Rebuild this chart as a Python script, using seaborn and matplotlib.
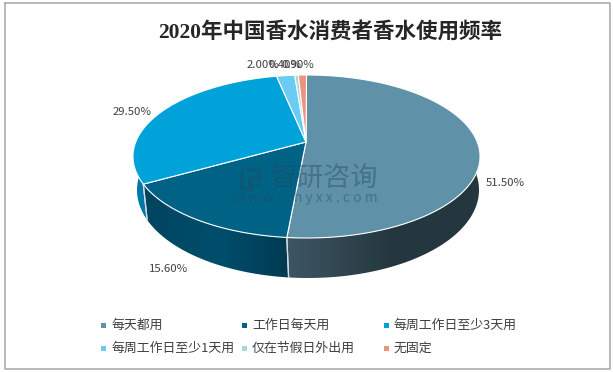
import numpy as np
import matplotlib
matplotlib.use("Agg")
import matplotlib.pyplot as plt
import matplotlib.colors as mc
from matplotlib.patches import Polygon, Rectangle
import seaborn as sns

categories = ["每天都用", "工作日每天用", "每周工作日至少3天用", "每周工作日至少1天用", "仅在节假日外出用", "无固定"]
values = [51.5, 15.6, 29.5, 2.0, 0.4, 0.9]
value_labels = ["51.50%", "15.60%", "29.50%", "2.00%", "0.40%", "0.90%"]
colors = ["#5F91A9", "#006386", "#00A2DA", "#6BCBF3", "#A5DAD9", "#EE9280"]
title = "2020年中国香水消费者香水使用频率"

sns.set_theme(style="white")
CJK = ["Noto Sans CJK SC", "DejaVu Sans"]
plt.rcParams["font.family"] = CJK

W, H = 613, 372
fig = plt.figure(figsize=(W / 100, H / 100), dpi=100)
ax = fig.add_axes([0, 0, 1, 1])

# ellipse geometry of the tilted pie (pixel space)
cx, cy, rx, ry = 306.5, 156.5, 173.5, 81.5
bx, by, brx, bry = 308, 190, 171, 88
apex = (306, 142)
WARP = np.radians(9.5)


def warp(t):
    return t - WARP * np.sin(t)


def top(t):
    t = warp(t)
    return cx + rx * np.sin(t), cy - ry * np.cos(t)


def bottom(t):
    t = warp(t)
    return bx + brx * np.sin(t), by - bry * np.cos(t)


edges = np.cumsum([0] + values) / sum(values) * 2 * np.pi

# side wall gradients, as (x position, colour) stops per slice
side_stops = {
    0: [(287, "#3E5664"), (390, "#25383F"), (480, "#24373F")],
    1: [(133, "#00435E"), (220, "#004E6C"), (287, "#003A52")],
    2: [(130, "#007FB0"), (150, "#0072A0")],
}
grad_x = np.linspace(0, W, W + 1)
for i, col in enumerate(colors):
    a0, a1 = max(edges[i], np.pi / 2), min(edges[i + 1], 3 * np.pi / 2)
    if a1 <= a0 or i not in side_stops:
        continue
    ts = np.linspace(a0, a1, 120)
    verts = [top(t) for t in ts] + [bottom(t) for t in ts[::-1]]
    stops = side_stops[i]
    xs = [s[0] for s in stops]
    rgb = np.array([mc.to_rgb(s[1]) for s in stops])
    img = np.stack([np.interp(grad_x, xs, rgb[:, c]) for c in range(3)], axis=-1)[None, :, :]
    im = ax.imshow(img, extent=(0, W, 300, 100), aspect="auto", interpolation="bilinear", zorder=2)
    im.set_clip_path(Polygon(verts, closed=True, transform=ax.transData))
    for a in (edges[i], edges[i + 1]):
        if np.pi / 2 <= a <= 3 * np.pi / 2:
            (x0, y0), (x1, y1) = top(a), bottom(a)
            ax.plot([x0, x1], [y0, y1], color="#cfdde3", lw=0.9, zorder=3)

# top faces
for i, col in enumerate(colors):
    ts = np.linspace(edges[i], edges[i + 1], max(int((edges[i + 1] - edges[i]) * 80), 3))
    verts = [apex] + [top(t) for t in ts]
    ax.add_patch(Polygon(verts, closed=True, fc=col, ec="white", lw=0.8, zorder=4, joinstyle="round"))

ax.set_xlim(0, W)
ax.set_ylim(H, 0)
ax.axis("off")

# value labels (the three small slices overlap in the source too)
label_xy = [(505, 183), (169, 269), (132, 112), (263, 65), (285, 65), (298, 65)]
for (x, y), s in zip(label_xy, value_labels):
    ax.text(x, y, s, fontsize=8.2, color="#404040", ha="center", va="center", zorder=6)

# title
ax.text(330, 32, title, fontsize=15.5, fontweight="bold", color="#262626", ha="center", va="center",
        family=["Liberation Serif", "Noto Sans CJK SC"])

# legend
leg_x = [103, 244, 386]
leg_y = [325, 348]
for i, (c, s) in enumerate(zip(colors, categories)):
    x = leg_x[i % 3]
    y = leg_y[i // 3]
    ax.add_patch(Rectangle((x - 2, y - 2), 4.5, 4.5, fc=c, ec="none", zorder=5))
    ax.text(x + 8, y, s, fontsize=9.3, color="#404040", ha="left", va="center")

# watermark
wm = "#24485c"
ax.text(324, 178, "智研咨询", fontsize=19.5, color=wm, alpha=0.42, ha="center", va="center", zorder=7)
ax.text(306, 198, "w w w . c h y x x . c o m", fontsize=10, color=wm, alpha=0.42, ha="center", va="center", zorder=7)
ax.plot([242, 242, 252], [170, 189, 189], color=wm, lw=3, alpha=0.35, zorder=7, solid_joinstyle="miter")
ax.plot([248, 259, 259, 250, 250, 260], [170, 170, 178, 178, 185, 185], color=wm, lw=2.6, alpha=0.35, zorder=7,
        solid_joinstyle="miter")

# frame
ax.plot([4.5, 4.5, 609.5, 609.5, 4.5], [2.5, 368.5, 368.5, 2.5, 2.5], color="#a6a6a6", lw=1.1, zorder=1)

fig.savefig("out.png", dpi=100)
